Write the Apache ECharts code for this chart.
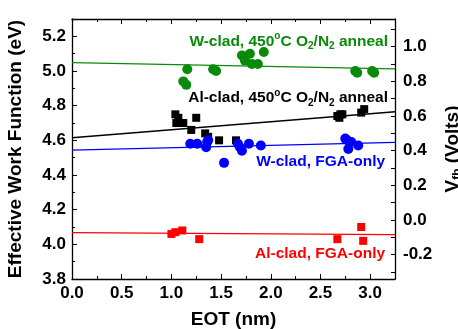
<!DOCTYPE html>
<html>
<head>
<meta charset="utf-8">
<script src="https://cdn.jsdelivr.net/npm/echarts@6/dist/echarts.min.js"></script>
<style>
  html, body { margin: 0; padding: 0; background: #fff; }
  #main { width: 458px; height: 329px; }
</style>
</head>
<body>
<div id="main"></div>
<script>
// EOT (nm) / effective work function (eV)
var wAnnealX = [1.12, 1.15, 1.16, 1.42, 1.45, 1.71, 1.74, 1.79, 1.81, 1.87, 1.93, 2.85, 2.87, 3.02, 3.04];
var wAnnealY = [4.94, 4.92, 5.01, 5.01, 5.00, 5.09, 5.06, 5.10, 5.04, 5.04, 5.11, 5.00, 4.99, 5.00, 4.99];
var alAnnealX = [1.04, 1.07, 1.05, 1.12, 1.25, 1.20, 1.34, 1.37, 1.48, 1.65, 2.67, 2.70, 2.72, 2.69, 2.91, 2.94];
var alAnnealY = [4.75, 4.73, 4.70, 4.70, 4.73, 4.66, 4.64, 4.62, 4.60, 4.60, 4.74, 4.75, 4.75, 4.73, 4.76, 4.78];
var wFgaX = [1.19, 1.26, 1.36, 1.35, 1.37, 1.53, 1.67, 1.69, 1.71, 1.78, 1.90, 2.75, 2.77, 2.78, 2.81, 2.88];
var wFgaY = [4.58, 4.58, 4.59, 4.56, 4.60, 4.47, 4.58, 4.56, 4.54, 4.58, 4.57, 4.61, 4.60, 4.55, 4.59, 4.57];
var alFgaX = [1.00, 1.04, 1.11, 1.28, 2.67, 2.91, 2.93];
var alFgaY = [4.06, 4.07, 4.08, 4.03, 4.03, 4.10, 4.02];

// fit lines, value at EOT = 0 and at EOT = 3.25
var fitX = [0, 3.25];
var wAnnealFit = [5.048, 5.012];
var alAnnealFit = [4.615, 4.765];
var wFgaFit = [4.544, 4.588];
var alFgaFit = [4.068, 4.056];

var vfbLabels = [-0.2, 0.0, 0.2, 0.4, 0.6, 0.8, 1.0];
var vfbTicks = [-0.3, -0.2, -0.1, 0.0, 0.1, 0.2, 0.3, 0.4, 0.5, 0.6, 0.7, 0.8, 0.9, 1.0, 1.1];

function pairs(xs, ys) {
    var out = [];
    for (let i = 0; i < xs.length; i++) out.push([xs[i], ys[i]]);
    return out;
}

var FONT = 'Liberation Sans, Arial, sans-serif';
var GREEN = '#0a8a0a', BLUE = '#0000ff', RED = '#ff0000', BLACK = '#000000';

var myChart = echarts.init(document.getElementById('main'));

var axisLine = { show: true, onZero: false, lineStyle: { color: '#000', width: 1.3 } };
var tickLab = { color: '#000', fontFamily: FONT, fontWeight: 'bold', fontSize: 17 };

var option = {
    animation: false,
    grid: { left: 72, right: 63, top: 19, bottom: 50, outerBoundsMode: 'none', containLabel: false },
    xAxis: [{
        type: 'value', min: 0, max: 3.25, interval: 0.5,
        axisLine: axisLine,
        axisTick: { inside: true, length: 5, lineStyle: { color: '#000' } },
        minorTick: { show: true, splitNumber: 2, length: 3, lineStyle: { color: '#000' } },
        splitLine: { show: false },
        axisLabel: Object.assign({ margin: 6, showMaxLabel: false, formatter: v => v.toFixed(1) }, tickLab),
        name: 'EOT (nm)', nameLocation: 'middle', nameGap: 31,
        nameTextStyle: { color: '#000', fontFamily: FONT, fontWeight: 'bold', fontSize: 19 }
    }, {
        type: 'value', position: 'top', min: 0, max: 3.25, interval: 0.5,
        axisLine: axisLine,
        axisTick: { inside: true, length: 5, lineStyle: { color: '#000' } },
        minorTick: { show: true, splitNumber: 2, length: 3, lineStyle: { color: '#000' } },
        splitLine: { show: false },
        axisLabel: { show: false }
    }],
    yAxis: [{
        type: 'value', min: 3.8, max: 5.3, interval: 0.2,
        axisLine: axisLine,
        axisTick: { inside: true, length: 5, lineStyle: { color: '#000' } },
        minorTick: { show: true, splitNumber: 2, length: 3, lineStyle: { color: '#000' } },
        splitLine: { show: false },
        axisLabel: Object.assign({ margin: 6, showMaxLabel: false, formatter: v => v.toFixed(1) }, tickLab),
        name: 'Effective Work Function (eV)', nameLocation: 'middle', nameGap: 47, nameRotate: 90,
        nameTextStyle: { color: '#000', fontFamily: FONT, fontWeight: 'bold', fontSize: 19 }
    }, {
        type: 'value', position: 'right', min: -0.34, max: 1.16,
        axisLine: axisLine,
        axisTick: { inside: true, length: 4, customValues: vfbTicks, lineStyle: { color: '#000' } },
        splitLine: { show: false },
        axisLabel: Object.assign({ margin: 8, customValues: vfbLabels, formatter: v => v.toFixed(1) }, tickLab),
        name: '{v|V}{s|fb}{v| (Volts)}', nameLocation: 'middle', nameGap: 44, nameRotate: 90,
        nameTextStyle: {
            rich: {
                v: { color: '#000', fontFamily: FONT, fontWeight: 'bold', fontSize: 19, lineHeight: 22 },
                s: { color: '#000', fontFamily: FONT, fontWeight: 'bold', fontSize: 12, verticalAlign: 'bottom' }
            }
        }
    }],
    series: [
        { type: 'line', data: pairs(fitX, wAnnealFit), symbol: 'none', lineStyle: { color: GREEN, width: 1.3 }, z: 1 },
        { type: 'line', data: pairs(fitX, alAnnealFit), symbol: 'none', lineStyle: { color: BLACK, width: 1.3 }, z: 1 },
        { type: 'line', data: pairs(fitX, wFgaFit), symbol: 'none', lineStyle: { color: BLUE, width: 1.3 }, z: 1 },
        { type: 'line', data: pairs(fitX, alFgaFit), symbol: 'none', lineStyle: { color: RED, width: 1.3 }, z: 1 },
        { type: 'scatter', data: pairs(wAnnealX, wAnnealY), symbol: 'circle', symbolSize: 10, itemStyle: { color: GREEN, opacity: 1 } },
        { type: 'scatter', data: pairs(alAnnealX, alAnnealY), symbol: 'rect', symbolSize: 8, itemStyle: { color: BLACK, opacity: 1 } },
        { type: 'scatter', data: pairs(wFgaX, wFgaY), symbol: 'circle', symbolSize: 10, itemStyle: { color: BLUE, opacity: 1 } },
        { type: 'scatter', data: pairs(alFgaX, alFgaY), symbol: 'rect', symbolSize: 8, itemStyle: { color: RED, opacity: 1 } }
    ]
};
myChart.setOption(option);

// in-plot labels, anchored (right edge) at data coordinates
var labels = [
    { at: [3.18, 5.171], color: GREEN, text: '{t|W-clad, 450}{sup|o}{t|C O}{sub|2}{t|/N}{sub|2}{t| anneal}' },
    { at: [3.18, 4.844], color: BLACK, text: '{t|Al-clad, 450}{sup|o}{t|C O}{sub|2}{t|/N}{sub|2}{t| anneal}' },
    { at: [3.15, 4.477], color: BLUE, text: '{t|W-clad, FGA-only}' },
    { at: [3.15, 3.943], color: RED, text: '{t|Al-clad, FGA-only}' }
];
var graphic = labels.map(function (l) {
    var p = myChart.convertToPixel({ gridIndex: 0 }, l.at);
    return {
        type: 'text', x: p[0], y: p[1], z: 10,
        style: {
            text: l.text, align: 'right', verticalAlign: 'middle',
            rich: {
                t: { fill: l.color, fontFamily: FONT, fontWeight: 'bold', fontSize: 15.5, lineHeight: 20 },
                sup: { fill: l.color, fontFamily: FONT, fontWeight: 'bold', fontSize: 10, verticalAlign: 'top' },
                sub: { fill: l.color, fontFamily: FONT, fontWeight: 'bold', fontSize: 10, verticalAlign: 'bottom' }
            }
        }
    };
});
myChart.setOption({ graphic: graphic });
</script>
</body>
</html>
